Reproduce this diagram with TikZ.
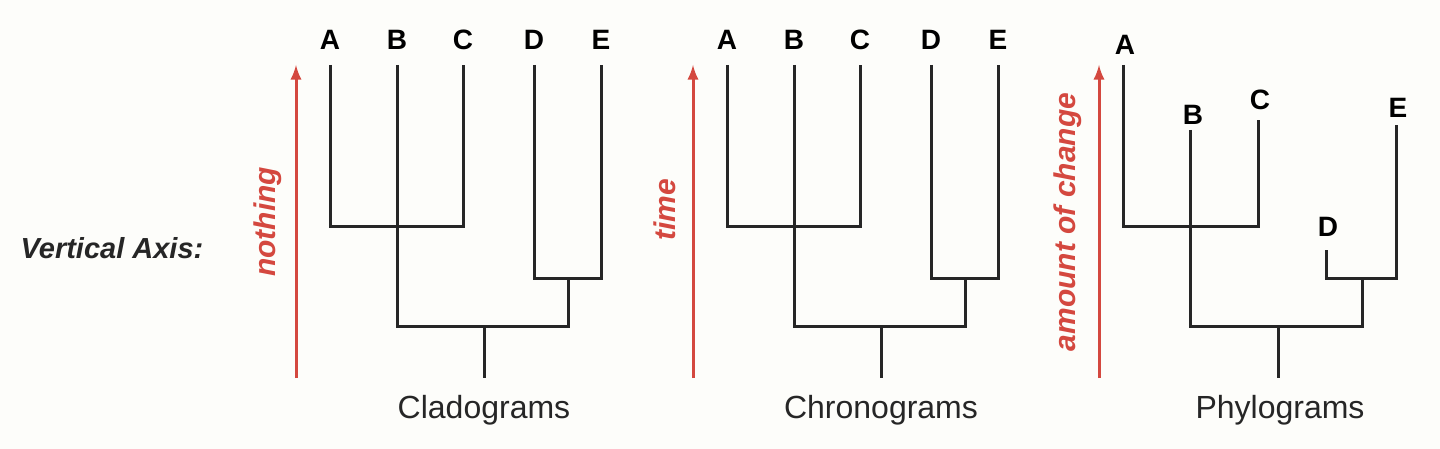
\documentclass[tikz,border=0pt]{standalone}
\usepackage{fontspec}
\setmainfont{Liberation Sans}
\definecolor{axred}{HTML}{D4483F}
\definecolor{bg}{HTML}{FDFDFA}
\begin{document}
\begin{tikzpicture}[x=0.5pt,y=-0.5pt,
  br/.style={line width=1.5pt,black!85},
  ax/.style={line width=1.5pt,axred,-latex},
  tip/.style={font=\bfseries\fontsize{14}{14}\selectfont,inner sep=0},
  ttl/.style={font=\fontsize{16}{16}\selectfont,inner sep=0,black!85},
  axl/.style={font=\bfseries\itshape\fontsize{15}{15}\selectfont,axred,rotate=90,inner sep=0}]
\fill[bg] (0,0) rectangle (1440,449);
\useasboundingbox (0,0) rectangle (1440,449);
\node[font=\bfseries\itshape\fontsize{14.5}{14.5}\selectfont,inner sep=0,black!85] (va) at (112,248) {Vertical Axis:};
\foreach \o/\t/\al/\ay [count=\i] in {0/Cladograms/nothing/222, 397/Chronograms/time/210}{
  \begin{scope}[xshift=\o*0.5pt]
  \foreach \n/\x in {A/330,B/397,C/463,D/534,E/601}{
    \node[tip] (t\i\n) at (\x,40) {\n};
    \coordinate (c\i\n) at (\x,65);}
  \draw[br] (c\i A) |- (463,226) -- (c\i C);
  \draw[br] (c\i D) |- (601,278) -- (c\i E);
  \draw[br] (c\i B) |- (568,326) -- (568,278);
  \draw[br] (484,326) -- (484,378);
  \node[ttl] (ti\i) at (484,410) {\t};
  \coordinate (a\i b) at (296,378); \coordinate (a\i t) at (296,65);
  \draw[ax] (a\i b) -- (a\i t);
  \node[axl] (al\i) at (268,\ay) {\al};
  \end{scope}}
% phylogram
\node[tip] (pA) at (1125,45) {A};
\node[tip] (pB) at (1193,115) {B};
\node[tip] (pC) at (1260,100) {C};
\node[tip] (pD) at (1328,227) {D};
\node[tip] (pE) at (1398,108) {E};
\draw[br] (1123,65) |- (1258,226) -- (1258,120);
\draw[br] (1326,250) |- (1396,278) -- (1396,125);
\draw[br] (1190,130) |- (1362,326) -- (1362,278);
\draw[br] (1278,326) -- (1278,378);
\node[ttl] (ti3) at (1280,410) {Phylograms};
\coordinate (a3b) at (1099,378); \coordinate (a3t) at (1099,65);
\draw[ax] (a3b) -- (a3t);
\node[axl] (al3) at (1068,222) {amount of change};
\end{tikzpicture}
\end{document}
